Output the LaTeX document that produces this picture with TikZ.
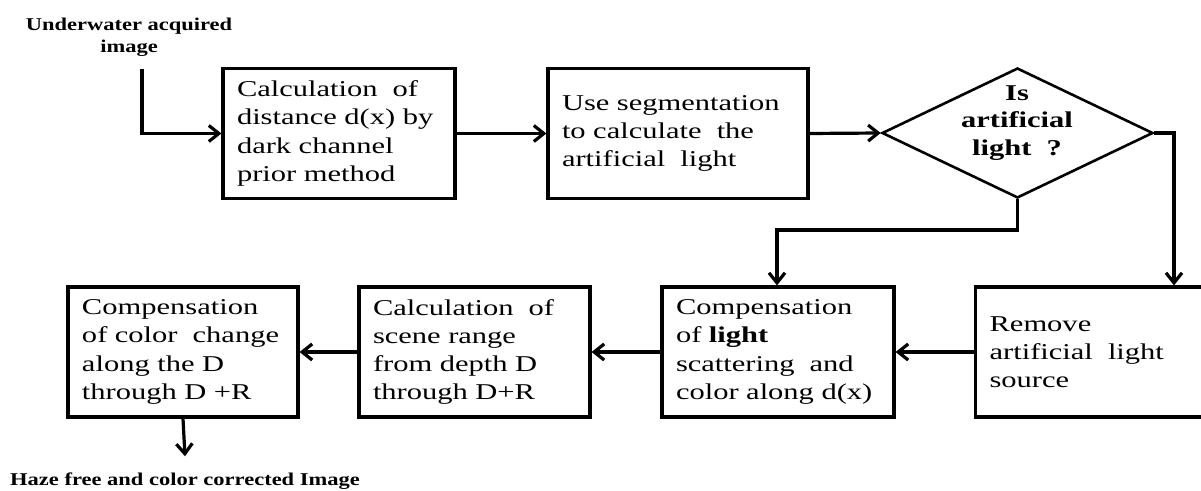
\documentclass[tikz,border=0pt]{standalone}
\usepackage{fontspec}
\setmainfont{Liberation Serif}[FakeStretch=1.35]
\usetikzlibrary{arrows.meta,shapes.geometric}
\tikzset{
  boxtext/.style={font=\fontsize{11.3}{14.1}\selectfont},
  stepbox/.style={draw, line width=1.6pt, rectangle, align=left, inner xsep=7pt, inner ysep=0pt,
    minimum height=65pt, boxtext},
  decision/.style={draw, line width=1.3pt, diamond, minimum width=135.5pt, minimum height=65pt, inner sep=0pt},
  flow/.style={line width=1.6pt, -{Straight Barb[length=5pt,width=8pt,line width=1.6pt]}},
  iolabel/.style={font=\fontsize{9}{11}\selectfont\bfseries\addfontfeatures{FakeStretch=1.25}, align=center, inner sep=0pt}
}
\begin{document}
\begin{tikzpicture}[x=0.5pt,y=-0.5pt]
\useasboundingbox (0,0) rectangle (1201,491);

\node[iolabel] (inlabel) at (129,37) {Underwater acquired\\image};
\coordinate (instart) at (142,69);

\node[stepbox, minimum width=116pt, text width=102pt] (b1) at (339,133.5)
  {Calculation~ of\\distance d(x) by\\dark channel\\prior method};
\node[stepbox, minimum width=130pt, text width=116pt] (b2) at (678,133.5)
  {Use segmentation\\to calculate~ the\\artificial~ light};
\node[decision] (dia) at (1017.5,133) {};
\node[boxtext, font=\fontsize{11.3}{13.8}\selectfont\bfseries, align=center, inner sep=0pt] (diatext) at (1017,123)
  {Is\\artificial\\light~ ?};

\node[stepbox, anchor=west, minimum width=122pt, text width=108pt] (b6) at (974,352)
  {Remove\\artificial~ light\\source};
\node[stepbox, minimum width=115pt, text width=102pt] (b3) at (778,352)
  {Compensation\\of \textbf{light}\\scattering~ and\\color along d(x)};
\node[stepbox, minimum width=115.5pt, text width=101.5pt] (b4) at (474.5,352)
  {Calculation~ of\\scene range\\from depth D\\through D+R};
\node[stepbox, minimum width=115pt, text width=101pt] (b5) at (183,352)
  {Compensation\\of color~ change\\along the D\\through D +R};

\node[iolabel] (outlabel) at (185,481) {Haze free and color corrected Image};

\coordinate (c1) at (1174,133);
\coordinate (c2) at (777,230);

\draw[flow] (instart) |- (b1.west);
\draw[flow] (b1.east) -- (b2.west);
\draw[flow] (b2.east) -- (dia.west);
\draw[flow] (dia.east) -- (c1) -- (c1 |- b6.north);
\draw[flow] (dia.south) |- (c2) -- (c2 |- b3.north);
\draw[flow] (b6.west) -- (b3.east);
\draw[flow] (b3.west) -- (b4.east);
\draw[flow] (b4.west) -- (b5.east);
\draw[flow] (b5.south) -- ([yshift=8pt]outlabel.north);
\end{tikzpicture}
\end{document}
